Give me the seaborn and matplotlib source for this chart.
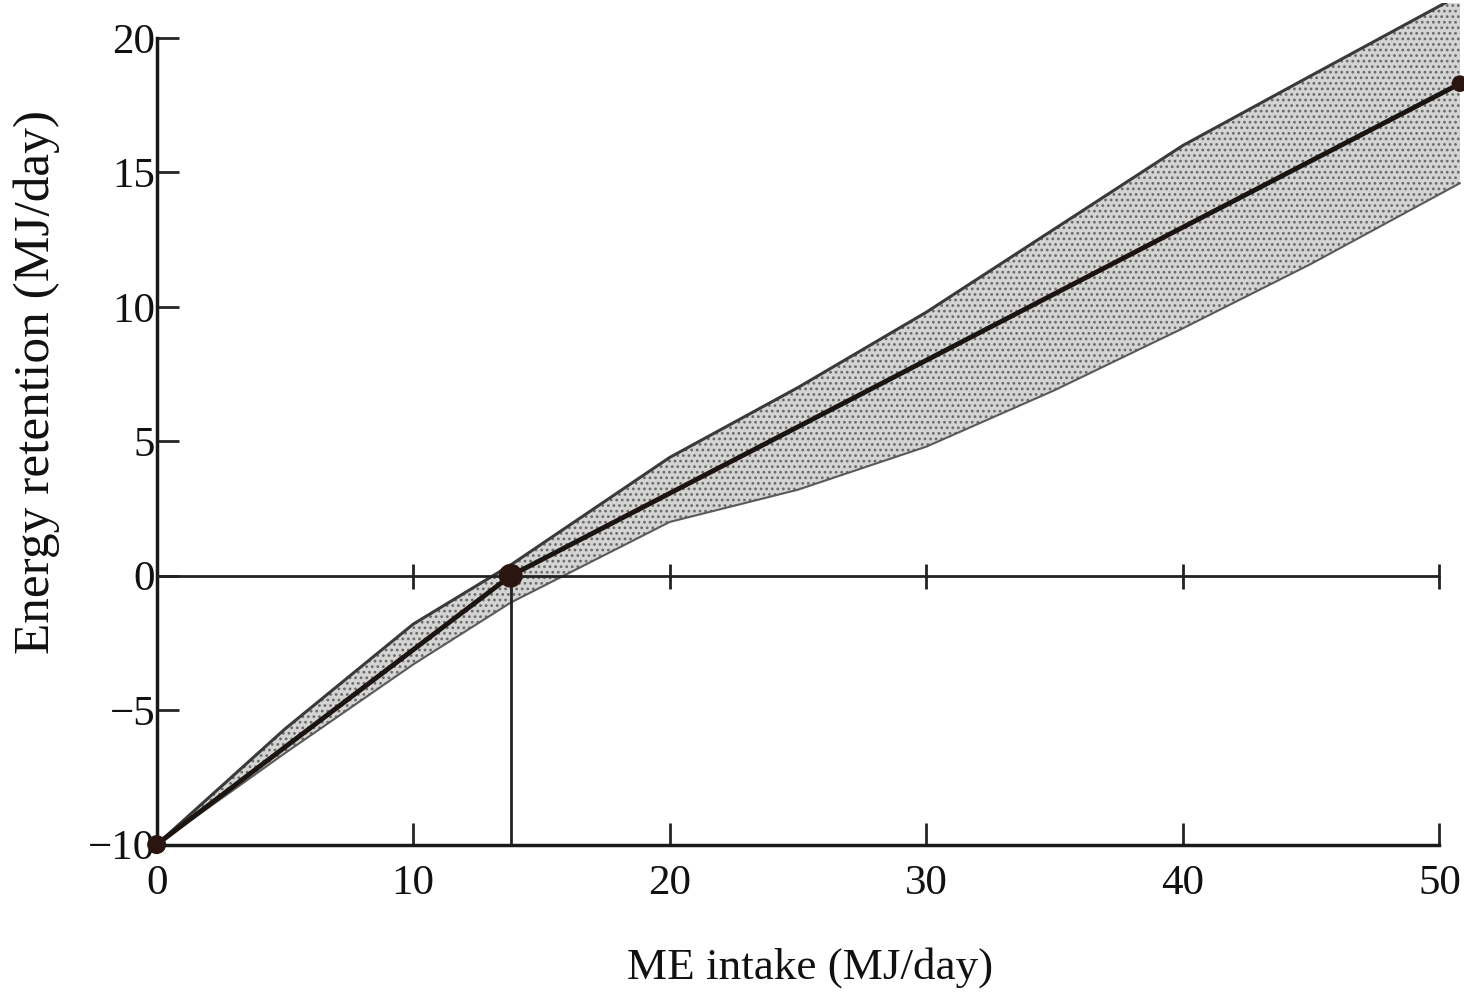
import numpy as np
import matplotlib
matplotlib.use("Agg")
import matplotlib.pyplot as plt
import seaborn as sns
import pandas as pd

# values
me_intake = [0, 13.8, 50.8]
retention = [-10, 0, 18.3]
maintenance = 13.8

band_x = [0, 5, 10, 13.8, 20, 25, 30, 35, 40, 45, 50.8]
band_upper = [-10, -5.7, -1.8, 0.4, 4.4, 7.0, 9.8, 12.9, 16.0, 18.6, 21.6]
band_lower = [-10, -6.6, -3.3, -1.0, 2.0, 3.2, 4.8, 6.9, 9.2, 11.6, 14.6]

x_ticks = [0, 10, 20, 30, 40, 50]
y_ticks = [-10, -5, 0, 5, 10, 15, 20]

sns.set_style('ticks')
plt.rcParams['font.family'] = ['Liberation Serif', 'DejaVu Serif']
plt.rcParams['hatch.linewidth'] = 1.2

fig = plt.figure(figsize=(14.64, 9.96), dpi=100)
ax = fig.add_axes([0.107, 0.152, 0.892, 0.845])

# shaded band of individual responses
ax.fill_between(band_x, band_lower, band_upper, facecolor='#d4d4d4',
                edgecolor='#6a6a6a', hatch='...', linewidth=0, zorder=1)
ax.plot(band_x, band_upper, color='#3a3a3a', lw=2.2, zorder=2)
ax.plot(band_x, band_lower, color='#5a5a5a', lw=1.5, zorder=2)

# mean response line
df = pd.DataFrame({'ME intake': me_intake, 'Energy retention': retention})
sns.lineplot(data=df, x='ME intake', y='Energy retention', color='#1c1410',
             lw=3.5, ax=ax, zorder=4)
ax.scatter([0, maintenance, me_intake[-1]], [-10, 0, retention[-1]],
           s=[160, 260, 120], color='#2a1510', zorder=5, clip_on=False)

# zero line with its own tick marks, and maintenance marker
ax.plot([0, 50], [0, 0], color='#222222', lw=2, zorder=3)
ax.plot(x_ticks[1:], [0] * 5, ls='none', marker='|', ms=18, mew=2,
        color='#222222', zorder=3)
ax.plot([maintenance, maintenance], [-10, 0], color='#222222', lw=2, zorder=3)

ax.set_xlim(0, 50.9)
ax.set_ylim(-10, 21.3)
ax.set_xticks(x_ticks)
ax.set_yticks(y_ticks)
ax.spines['top'].set_visible(False)
ax.spines['right'].set_visible(False)
ax.spines['left'].set_bounds(-10, 20)
ax.spines['bottom'].set_bounds(0, 50)
for s in ['left', 'bottom']:
    ax.spines[s].set_linewidth(2.5)
    ax.spines[s].set_color('#1a1a1a')
ax.tick_params(axis='x', direction='in', length=16, width=2, labelsize=31,
               pad=14, labelcolor='#111111')
ax.tick_params(axis='y', direction='in', length=16, width=2, labelsize=31,
               pad=1, labelcolor='#111111')

ax.set_xlabel('ME intake (MJ/day)', fontsize=32.5, color='#111111')
ax.set_ylabel('Energy retention (MJ/day)', fontsize=37, color='#111111')
ax.xaxis.set_label_coords(0.5, -0.122)
ax.yaxis.set_label_coords(-0.074, 0.55)

fig.savefig('out.png', dpi=100, facecolor='white')
